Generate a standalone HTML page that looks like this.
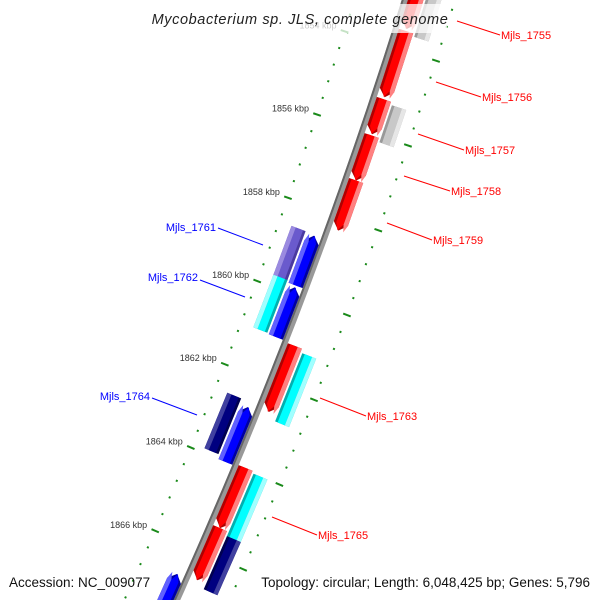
<!DOCTYPE html>
<html><head><meta charset="utf-8"><style>
html,body{margin:0;padding:0;background:#fff;width:600px;height:600px;overflow:hidden;}
svg{display:block;font-family:"Liberation Sans",sans-serif;overflow:hidden;}
</style></head><body>
<svg id="map" width="600" height="600" viewBox="0 0 600 600" xmlns="http://www.w3.org/2000/svg">
<g id="ticks"></g>
<path id="backbone" fill="none" stroke="#999" stroke-width="6"></path>
<path id="backbone2" fill="none" stroke="#666" stroke-width="2"></path>
<g id="genes"></g>
<g id="labels"></g>
<rect x="153" y="4" width="294" height="29" fill="#fff" fill-opacity="0.75"></rect>
<text x="300" y="24" text-anchor="middle" font-size="14.5" font-style="italic" letter-spacing="0.6" fill="#222">Mycobacterium sp. JLS, complete genome</text>
<text x="9" y="587" font-size="13.5" fill="#111">Accession: NC_009077</text>
<text x="590" y="587" text-anchor="end" font-size="13.5" fill="#111">Topology: circular; Length: 6,048,425 bp; Genes: 5,796</text>
</svg>
<script>
// gene data (kbp positions)
var geneStarts = [1851.5,1853.57,1855.19,1856.05,1857.12,1861.05,1863.95,1865.38, 1852.2,1855.26,1861.14,1864.0,1865.48, 1858.6,1859.83,1862.69,1866.67, 1858.57,1859.74,1862.57];
var geneEnds   = [1853.52,1855.14,1856.02,1857.12,1858.31,1862.62,1865.38,1866.62, 1853.64,1856.14,1862.76,1865.55,1866.74, 1859.79,1861.02,1864.0,1867.57, 1859.76,1861.0,1863.9];
var geneLanes  = [1,1,1,1,1,1,1,1, 2,2,2,2,2, -1,-1,-1,-1, -2,-2,-2];
var geneColors = ["red","red","red","red","red","red","red","red","gray","gray","cyan","cyan","navy","blue","blue","blue","blue","purple","cyan","navy"];
var tickLabels = ["1854 kbp","1856 kbp","1858 kbp","1860 kbp","1862 kbp","1864 kbp","1866 kbp"];
var tickKbp = [1854,1856,1858,1860,1862,1864,1866];
var labelNames = ["Mjls_1755","Mjls_1756","Mjls_1757","Mjls_1758","Mjls_1759","Mjls_1761","Mjls_1762","Mjls_1763","Mjls_1764","Mjls_1765"];
var labelColors = ["red","red","red","red","red","blue","blue","red","blue","red"];
var labelX = [501,482,465,451,433,216,198,367,150,318];
var labelY = [39,101,154,195,244,231,281,420,400,539];
var lineFromX = [457,436,418,404,387,218,200,320,152,272];
var lineFromY = [21,82,134,176,223,228,280,398,398,517];

var NS="http://www.w3.org/2000/svg";
function kToT(k){return 130+(k-1856)*42;}
function X(t){return 404.8-0.3103*t-0.0001156*t*t;}
function dX(t){return -0.3103-0.0002312*t;}
function pt(t,r){var d=dX(t),l=Math.sqrt(1+d*d);return [X(t)+r/l, t-d*r/l];}
function P(a){return a[0].toFixed(1)+","+a[1].toFixed(1);}

var bb="";for(var t=-40;t<=620;t+=10){var p=pt(t,0);bb+=(t==-40?"M":"L")+P(p);}
document.getElementById("backbone").setAttribute("d",bb);
var bb2="";for(var t=-40;t<=620;t+=10){var p=pt(t,-2);bb2+=(t==-40?"M":"L")+P(p);}
document.getElementById("backbone2").setAttribute("d",bb2);

var palette={red:["#ff0000","#b00000","#ff8080"],gray:["#c8c8c8","#999","#e6e6e6"],cyan:["#00ffff","#00b0b0","#a0ffff"],navy:["#000080","#000050","#4040a0"],blue:["#0000ff","#0000a0","#6060ff"],purple:["#6a5acd","#4a3aa0","#9a8ae0"]};
var lanes={1:[3,18],2:[20,35],"-1":[-3,-18],"-2":[-20,-35]};
var gg=document.getElementById("genes");
function poly(pts,fill,name){var e=document.createElementNS(NS,"polygon");e.setAttribute("points",pts.map(P).join(" "));e.setAttribute("fill",fill);


gg.appendChild(e);return e;}
function shape(t1,t2,ra,rb,lane,arrow){
  var pts=[];var H=7;
  if(arrow && lane>0){
    pts=[pt(t1,ra),pt(t1,rb),pt(t2-H,rb),pt(t2,(ra+rb)/2),pt(t2-H,ra)];
  } else if(arrow && lane<0){
    pts=[pt(t1+H,ra),pt(t1,(ra+rb)/2),pt(t1+H,rb),pt(t2,rb),pt(t2,ra)];
  } else pts=[pt(t1,ra),pt(t1,rb),pt(t2,rb),pt(t2,ra)];
  return pts;
}
for(var i=0;i<geneStarts.length;i++){
  var t1=kToT(geneStarts[i]),t2=kToT(geneEnds[i]),L=geneLanes[i],r=lanes[L],c=palette[geneColors[i]];
  var arrow=(Math.abs(L)==1);
  poly(shape(t1,t2,r[0],r[1],L,arrow),c[1],"gene-"+i+"-"+geneColors[i]);
  var w=r[1]-r[0];
  poly(shape(t1,t2,r[0]+w*0.18,r[1]-w*0.3,L,arrow),c[0],"gene-"+i+"-body");
  poly(shape(t1,t2,r[1]-w*0.3,r[1],L,arrow),c[2],"gene-"+i+"-highlight");
}

var tg=document.getElementById("ticks");
for(var k=1851.2;k<=1868.2;k+=0.4){
  var kk=Math.round(k*10)/10;var t=kToT(kk);
  var major=Math.abs(kk/2-Math.round(kk/2))<0.01;
  [-48,48].forEach(function(rr){
    var a=pt(t,rr-(major?4:1)),b=pt(t,rr+(major?4:1));
    if(a[1]>598||b[1]>598) return;
    var l=document.createElementNS(NS,"line");
    l.setAttribute("x1",a[0]);l.setAttribute("y1",a[1]);l.setAttribute("x2",b[0]);l.setAttribute("y2",b[1]);
    l.setAttribute("stroke","#1a8a1a");l.setAttribute("stroke-width",2);
    
    
    tg.appendChild(l);
  });
}
for(var j=0;j<tickKbp.length;j++){
  var p=pt(kToT(tickKbp[j]),-48);
  var tx=document.createElementNS(NS,"text");
  tx.setAttribute("x",p[0]-8);tx.setAttribute("y",p[1]-3);tx.setAttribute("text-anchor","end");tx.setAttribute("font-size","9");tx.setAttribute("fill","#333");
  tx.textContent=tickLabels[j];
  
  
  tg.appendChild(tx);
}

var lg=document.getElementById("labels");
for(var j=0;j<labelNames.length;j++){
  var blue=labelColors[j]=="blue";
  var ln=document.createElementNS(NS,"line");
  if(blue){ln.setAttribute("x1",lineFromX[j]);ln.setAttribute("y1",lineFromY[j]);ln.setAttribute("x2",lineFromX[j]+45);ln.setAttribute("y2",lineFromY[j]+17);}
  else{ln.setAttribute("x1",lineFromX[j]);ln.setAttribute("y1",lineFromY[j]);ln.setAttribute("x2",labelX[j]-1);ln.setAttribute("y2",labelY[j]-4);}
  ln.setAttribute("stroke",labelColors[j]);ln.setAttribute("stroke-width","1");
  
  
  lg.appendChild(ln);
  var t=document.createElementNS(NS,"text");
  t.setAttribute("x",labelX[j]);t.setAttribute("y",labelY[j]);t.setAttribute("font-size","11");t.setAttribute("fill",labelColors[j]);
  if(blue)t.setAttribute("text-anchor","end");
  t.textContent=labelNames[j];
  
  
  lg.appendChild(t);
}
</script>
</body></html>
